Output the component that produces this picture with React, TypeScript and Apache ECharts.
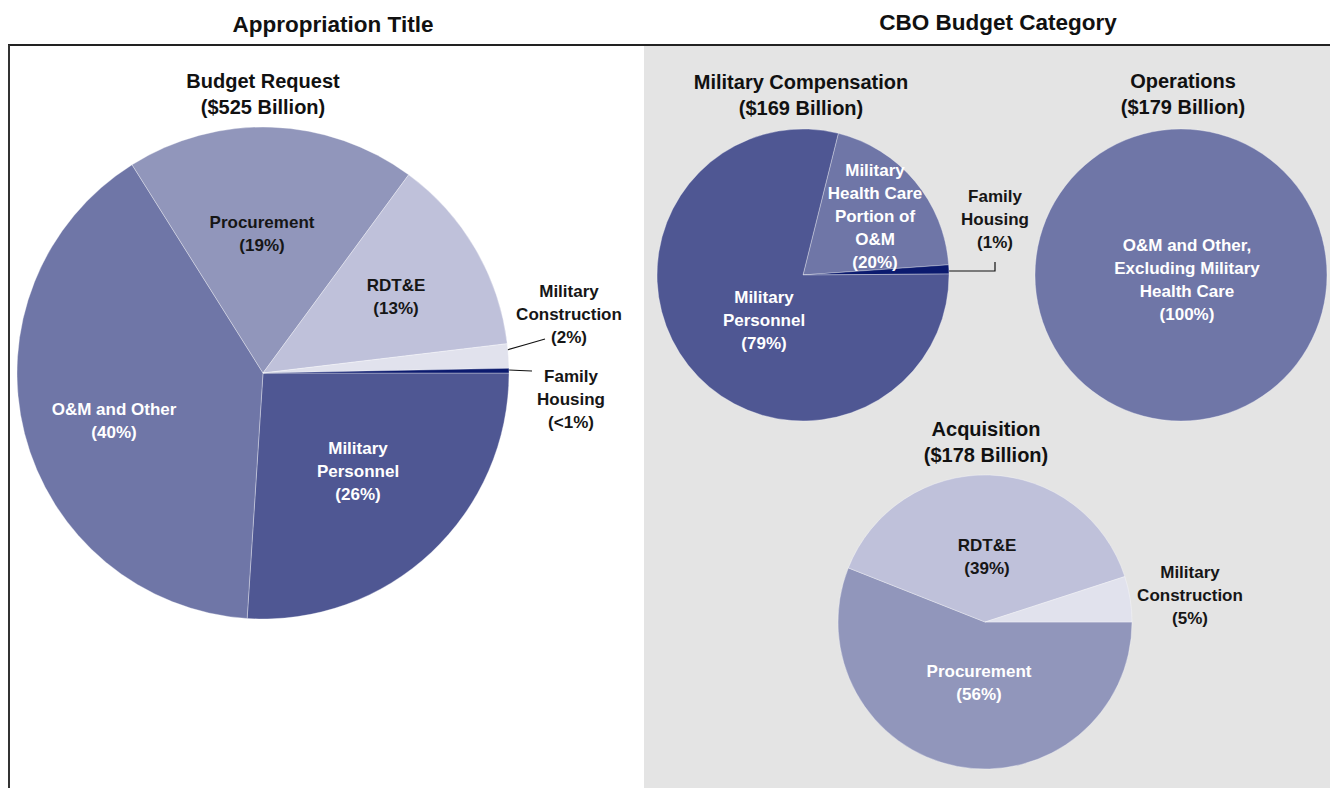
import React, { useEffect, useRef } from "react";
import * as echarts from "echarts";

// ---------- data ----------
const panelTitles = ["Appropriation Title", "CBO Budget Category"];
const pieTitles = [
  "Budget Request\n($525 Billion)",
  "Military Compensation\n($169 Billion)",
  "Operations\n($179 Billion)",
  "Acquisition\n($178 Billion)",
];

const budgetCats = ["Military\nPersonnel", "O&M and Other", "Procurement", "RDT&E", "Military\nConstruction", "Family\nHousing"];
const budgetVals = [26, 40, 19, 13, 1.6, 0.3];
const budgetPct = ["(26%)", "(40%)", "(19%)", "(13%)", "(2%)", "(<1%)"];

const compCats = ["Military\nHealth Care\nPortion of\nO&M", "Family\nHousing", "Military\nPersonnel"];
const compVals = [20, 1, 79];
const compPct = ["(20%)", "(1%)", "(79%)"];

const opsCats = ["O&M and Other,\nExcluding Military\nHealth Care"];
const opsVals = [100];
const opsPct = ["(100%)"];

const acqCats = ["Procurement", "RDT&E", "Military\nConstruction"];
const acqVals = [56, 39, 5];
const acqPct = ["(56%)", "(39%)", "(5%)"];

// ---------- styles ----------
const COL = {
  pers: "#4f5793",
  om: "#6f76a7",
  proc: "#9196bb",
  rdte: "#bfc1da",
  milcon: "#e1e2ed",
  fh: "#0b1a6e",
};
const DARK = "#161616";
const WHITE = "#ffffff";
const TITLE_FONT = "'Liberation Sans', Arial, sans-serif";
const LABEL_FONT = "'Liberation Sans', Arial, sans-serif";

type PieCfg = {
  id: string;
  center: [number, number];
  radius: number;
  startAngle: number;
  cats: string[];
  vals: number[];
  pcts: string[];
  colors: string[];
  textColors: string[];
  outside: boolean[];
  pos: number[][];
  lines: (number[][] | null)[];
};

function buildPie(c: PieCfg) {
  return {
    type: "pie",
    id: c.id,
    center: c.center,
    radius: c.radius,
    startAngle: c.startAngle,
    clockwise: true,
    silent: true,
    avoidLabelOverlap: false,
    itemStyle: { borderColor: "rgba(255,255,255,0.55)", borderWidth: 0.6 },
    label: {
      show: true,
      position: "inside",
      formatter: (p: any) => `${p.name}\n${c.pcts[p.dataIndex]}`,
      fontFamily: LABEL_FONT,
      fontWeight: "bold",
      fontSize: 17,
      lineHeight: 23,
      align: "center",
    },
    labelLine: { show: false },
    emphasis: { disabled: true },
    data: c.cats.map((name, i) => ({
      name,
      value: c.vals[i],
      itemStyle: { color: c.colors[i] },
      label: { color: c.textColors[i], position: c.outside[i] ? "outside" : "inside" },
      labelLine: { show: !!c.lines[i], lineStyle: { color: "#111", width: 1.2 }, length: 8, length2: 8 },
    })),
    labelLayout: (params: any) => {
      const p = c.pos[params.dataIndex];
      const o: any = { x: p[0], y: p[1], align: "center", verticalAlign: "middle" };
      const l = c.lines[params.dataIndex];
      if (l) o.labelLinePoints = l;
      return o;
    },
  };
}

export default function App() {
  const ref = useRef<HTMLDivElement>(null);
  useEffect(() => {
    if (!ref.current) return;
    const chart = echarts.init(ref.current, undefined, { renderer: "svg" });

    const titleText = (text: string, x: number, y: number, size: number, lh: number) => ({
      type: "text",
      x,
      y,
      z: 10,
      silent: true,
      style: {
        text,
        fill: "#111",
        fontFamily: TITLE_FONT,
        fontWeight: "bold",
        fontSize: size,
        lineHeight: lh,
        align: "center",
        verticalAlign: "middle",
      },
    });

    chart.setOption({
      animation: false,
      backgroundColor: "#ffffff",
      graphic: [
        { type: "rect", z: -10, silent: true, shape: { x: 644, y: 45, width: 686, height: 743 }, style: { fill: "#e4e4e4" } },
        { type: "line", z: 5, silent: true, shape: { x1: 8, y1: 45, x2: 1330, y2: 45 }, style: { stroke: "#222", lineWidth: 2 } },
        { type: "line", z: 5, silent: true, shape: { x1: 9, y1: 45, x2: 9, y2: 788 }, style: { stroke: "#333", lineWidth: 2 } },
        titleText(panelTitles[0], 333, 24, 22.5, 28),
        titleText(panelTitles[1], 998, 22, 22.5, 28),
        titleText(pieTitles[0], 263, 94, 20, 26),
        titleText(pieTitles[1], 801, 95, 20, 26),
        titleText(pieTitles[2], 1183, 94, 20, 26),
        titleText(pieTitles[3], 986, 442, 20, 26),
      ],
      series: [
        buildPie({
          id: "budget",
          center: [263, 373],
          radius: 246,
          startAngle: 0,
          cats: budgetCats,
          vals: budgetVals,
          pcts: budgetPct,
          colors: [COL.pers, COL.om, COL.proc, COL.rdte, COL.milcon, COL.fh],
          textColors: [WHITE, WHITE, DARK, DARK, DARK, DARK],
          outside: [false, false, false, false, true, true],
          pos: [[358, 471], [114, 421], [262, 234], [396, 297], [569, 314], [571, 399]],
          lines: [null, null, null, null, [[507, 350], [526, 344.5], [545, 339]], [[509, 370], [520, 370.5], [532, 371]]],
        }),
        buildPie({
          id: "comp",
          center: [803, 275],
          radius: 146,
          startAngle: 76,
          cats: compCats,
          vals: compVals,
          pcts: compPct,
          colors: [COL.om, COL.fh, COL.pers],
          textColors: [WHITE, DARK, WHITE],
          outside: [false, true, false],
          pos: [[875, 216], [995, 219], [764, 320]],
          lines: [null, [[949, 271], [995, 271], [995, 262]], null],
        }),
        buildPie({
          id: "ops",
          center: [1181, 275],
          radius: 146,
          startAngle: 90,
          cats: opsCats,
          vals: opsVals,
          pcts: opsPct,
          colors: [COL.om],
          textColors: [WHITE],
          outside: [false],
          pos: [[1187, 280]],
          lines: [null],
        }),
        buildPie({
          id: "acq",
          center: [985, 622],
          radius: 147,
          startAngle: 0,
          cats: acqCats,
          vals: acqVals,
          pcts: acqPct,
          colors: [COL.proc, COL.rdte, COL.milcon],
          textColors: [WHITE, DARK, DARK],
          outside: [false, false, true],
          pos: [[979, 683], [987, 557], [1190, 595]],
          lines: [null, null, null],
        }),
      ],
    });
    return () => chart.dispose();
  }, []);
  return <div ref={ref} style={{ position: "absolute", left: 0, top: 0, width: 1330, height: 788 }} />;
}
